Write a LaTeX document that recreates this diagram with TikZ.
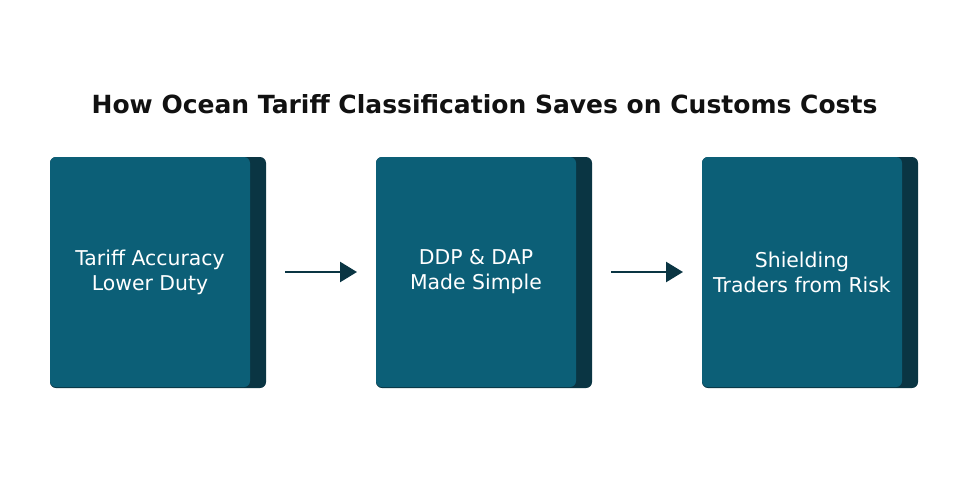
\documentclass[tikz,border=0pt]{standalone}
\usepackage{fontspec}
\setmainfont{DejaVu Sans}
\usetikzlibrary{arrows.meta}
\definecolor{front}{HTML}{0C5F77}
\definecolor{back}{HTML}{0A3543}
\definecolor{ink}{HTML}{111111}
\begin{document}
\begin{tikzpicture}[x=1pt,y=-1pt,
  backbox/.style={fill=back,rounded corners=6pt},
  frontbox/.style={fill=front,rounded corners=6pt},
  lbl/.style={text=white,font=\fontsize{20.4}{25}\selectfont,align=center},
  conn/.style={draw=back,line width=2.6pt,-{Triangle[length=17pt,width=20pt]}}]
\useasboundingbox (0,0) rectangle (969,491);
\node[font=\bfseries\fontsize{25}{30}\selectfont,text=ink] (title) at (484.5,104) {How Ocean Tariff Classification Saves on Customs Costs};
\foreach \i/\x/\t in {a/50/{Tariff Accuracy\\Lower Duty},b/376/{DDP \& DAP\\Made Simple},c/702/{Shielding\\Traders from Risk}}{
  \fill[backbox] (\x,157) rectangle ++(216,231);
  \fill[frontbox] (\x,157) rectangle ++(200,230);
  \coordinate (\i w) at (\x,272);
  \coordinate (\i e) at ({\x+216},272);
  \node[lbl] (\i) at ({\x+100},272) {\t};
}
\draw[conn] (285,272) -- (357,272);
\draw[conn] (611,272) -- (683,272);
\end{tikzpicture}
\end{document}
